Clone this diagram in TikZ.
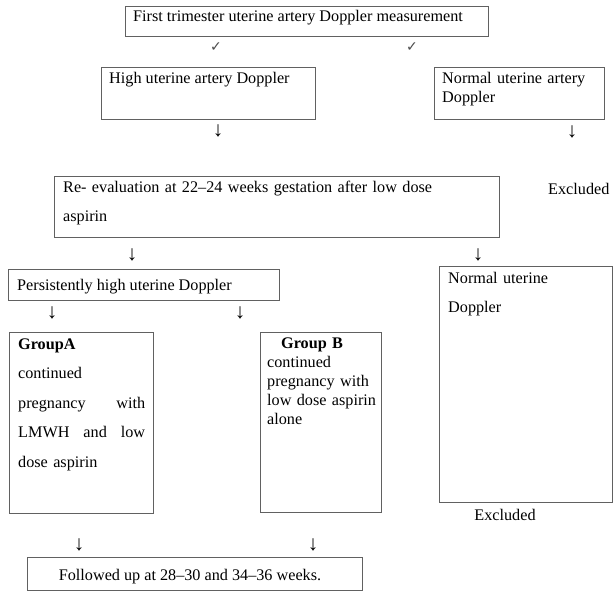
\documentclass[tikz,border=0pt]{standalone}
\usepackage{fontspec}
\setmainfont{Liberation Serif}
\newfontfamily\symfont{DejaVu Sans}
\begin{document}
\begin{tikzpicture}[x=1pt,y=-1pt,
  box/.style={draw=black!62,line width=0.8pt,inner sep=0pt,anchor=north west},
  txt/.style={inner sep=0pt,anchor=base west,font=\fontsize{16.2}{18}\selectfont},
  arr/.style={inner sep=0pt,font=\fontsize{21}{22}\selectfont},
  chk/.style={inner sep=0pt,text=black!70,font=\symfont\fontsize{14}{15}\selectfont}]
\useasboundingbox[fill=white] (0,0) rectangle (613,594);
% boxes
\node[box,minimum width=363pt,minimum height=30pt] (b1) at (125,6) {};
\node[box,minimum width=214pt,minimum height=52pt] (b2) at (101,67) {};
\node[box,minimum width=170pt,minimum height=52pt] (b3) at (434,67) {};
\node[box,minimum width=445pt,minimum height=61pt] (b4) at (54,176) {};
\node[box,minimum width=271pt,minimum height=31pt] (b5) at (8,269) {};
\node[box,minimum width=173pt,minimum height=236pt] (b6) at (439,266) {};
\node[box,minimum width=144pt,minimum height=181pt] (b7) at (9,332) {};
\node[box,minimum width=121pt,minimum height=180pt] (b8) at (260,332) {};
\node[box,minimum width=335pt,minimum height=33pt] (b9) at (27,557) {};
% texts
\node[txt] (t1) at (133,22) {First trimester uterine artery Doppler measurement};
\node[txt] (t2) at (109,83) {High uterine artery Doppler};
\node[txt,text width=160pt,align=left] (t3) at (442,84) {Normal uterine artery\\Doppler};
\node[txt] (t4) at (548,194) {Excluded};
\node[txt,text width=430pt,align=left,font=\fontsize{16.2}{29}\selectfont] (t5) at (63,192) {Re- evaluation at 22--24 weeks gestation after low dose\\aspirin};
\node[txt] (t6) at (17,290) {Persistently high uterine Doppler};
\node[txt,text width=160pt,align=left,font=\fontsize{16.2}{29.5}\selectfont] (t7) at (448,283) {Normal uterine\\Doppler};
\node[txt,text width=127pt,align=left,font=\fontsize{16.2}{29.5}\selectfont] (t8) at (18,349) {\textbf{GroupA}\\continued\\pregnancy\hfill with\\LMWH\hfill and\hfill low\\dose aspirin};
\node[txt,text width=115pt,align=left,font=\fontsize{16.2}{19}\selectfont] (t9) at (267,348) {\hspace*{14pt}\textbf{Group B}\\continued\\pregnancy with\\low dose aspirin\\alone};
\node[txt,anchor=base] (t10) at (505,520) {Excluded};
\node[txt,anchor=base] (t11) at (190,580) {Followed up at 28--30 and 34--36 weeks.};
% arrow glyphs
\node[chk] (c1) at (216,47) {✓};
\node[chk] (c2) at (412,47) {✓};
\node[arr] (a1) at (218,131) {↓};
\node[arr] (a2) at (572,132) {↓};
\node[arr] (a3) at (132,255) {↓};
\node[arr] (a4) at (478,255) {↓};
\node[arr] (a5) at (52,313) {↓};
\node[arr] (a6) at (240,313) {↓};
\node[arr] (a7) at (79,545) {↓};
\node[arr] (a8) at (313,545) {↓};
\end{tikzpicture}
\end{document}
